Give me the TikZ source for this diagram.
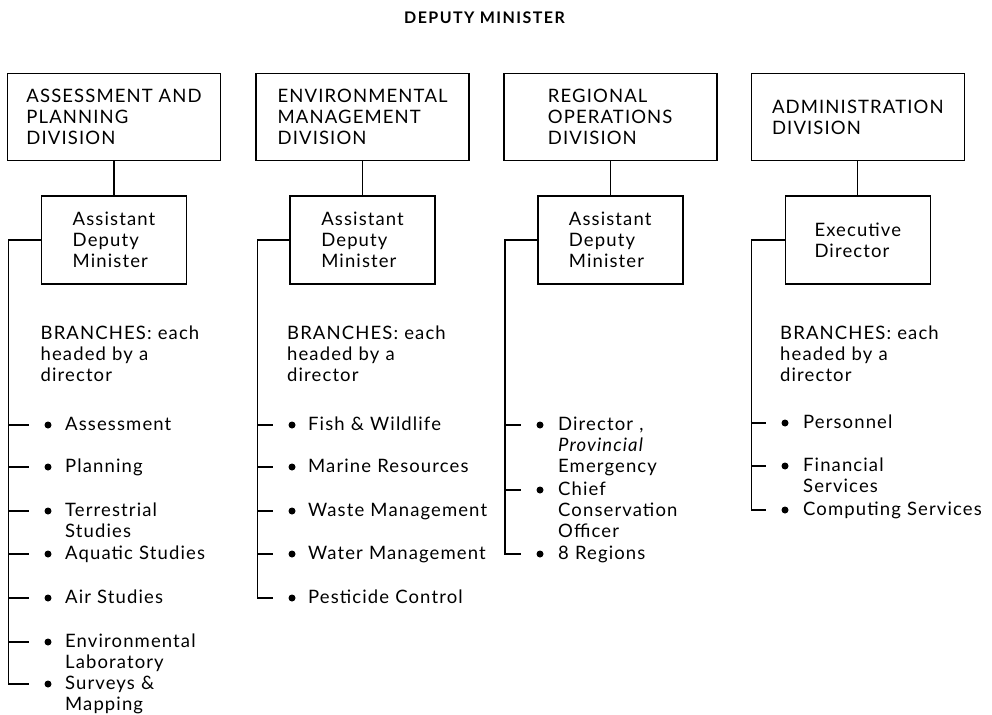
\documentclass[tikz,border=0pt]{standalone}
\usepackage{fontspec}
\setmainfont{Lato}[LetterSpace=6]
\usetikzlibrary{positioning}
\newcommand{\chartfont}{\fontsize{18.5}{21}\selectfont}
\begin{document}
\begin{tikzpicture}[x=1pt, y=1pt, node distance=34pt,
  div/.style = {draw, line width=1.6pt, minimum width=213pt, minimum height=87pt, align=left, font=\chartfont},
  head/.style = {draw, line width=1.6pt, minimum width=145pt, minimum height=88pt, align=left, font=\chartfont},
  item/.style = {anchor=base west, text width=200pt, align=left, inner sep=0pt, font=\chartfont},
  dot/.style = {circle, fill, inner sep=0pt, minimum size=7pt},
  link/.style = {line width=1.3pt}]
\useasboundingbox (0,0) rectangle (992,-714);

\node[font=\fontsize{16}{18}\selectfont\bfseries\addfontfeature{LetterSpace=9}] (dm) at (484.5,-18) {DEPUTY MINISTER};

% divisions
\node[div] (apd) at (114,-117) {ASSESSMENT AND\\PLANNING\\DIVISION};
\node[div] (emd) [right=34pt of apd] {ENVIRONMENTAL\\MANAGEMENT\\DIVISION};
\node[div] (rod) [right=33pt of emd] {REGIONAL\\OPERATIONS\\DIVISION};
\node[div] (add) [right=33pt of rod] {ADMINISTRATION\\DIVISION};

% heads
\node[head] (h1) [below=of apd] {Assistant\\Deputy\\Minister};
\node[head] (h2) [below=of emd] {Assistant\\Deputy\\Minister};
\node[head] (h3) [below=of rod] {Assistant\\Deputy\\Minister};
\node[head] (h4) [below=of add] {Executive\\Director};

\foreach \d/\h in {apd/h1, emd/h2, rod/h3, add/h4}
  \draw[link] (\d) -- (\h);

\coordinate[left=32pt of h1.west] (sp1);
\coordinate[left=32pt of h2.west] (sp2);
\coordinate[left=32pt of h3.west] (sp3);
\coordinate[left=33pt of h4.west] (sp4);

\node[item] (br1) at (40.5,-339) {BRANCHES: each\\headed by a\\director};
\node[item] (br2) at (287,-339) {BRANCHES: each\\headed by a\\director};
\node[item] (br4) at (780,-339) {BRANCHES: each\\headed by a\\director};

% assessment and planning
\node[dot] (a1) at (48,-425) {};
\node[dot] (a2) at (48,-467) {};
\node[dot] (a3) at (48,-511) {};
\node[dot] (a4) at (48,-554) {};
\node[dot] (a5) at (48,-598) {};
\node[dot] (a6) at (48,-642) {};
\node[dot] (a7) at (48,-684) {};
\node[item] at ([xshift=17pt,yshift=-5.5pt]a1.center) {Assessment};
\node[item] at ([xshift=17pt,yshift=-5.5pt]a2.center) {Planning};
\node[item] at ([xshift=17pt,yshift=-5.5pt]a3.center) {Terrestrial\\Studies};
\node[item] at ([xshift=17pt,yshift=-5.5pt]a4.center) {Aquatic Studies};
\node[item] at ([xshift=17pt,yshift=-5.5pt]a5.center) {Air Studies};
\node[item] at ([xshift=17pt,yshift=-5.5pt]a6.center) {Environmental\\Laboratory};
\node[item] at ([xshift=17pt,yshift=-5.5pt]a7.center) {Surveys \&\\Mapping};

% environmental management
\node[dot] (e1) at (292,-425) {};
\node[dot] (e2) at (292,-467) {};
\node[dot] (e3) at (292,-511) {};
\node[dot] (e4) at (292,-554) {};
\node[dot] (e5) at (292,-598) {};
\node[item] at ([xshift=16pt,yshift=-5.5pt]e1.center) {Fish \& Wildlife};
\node[item] at ([xshift=16pt,yshift=-5.5pt]e2.center) {Marine Resources};
\node[item] at ([xshift=16pt,yshift=-5.5pt]e3.center) {Waste Management};
\node[item] at ([xshift=16pt,yshift=-5.5pt]e4.center) {Water Management};
\node[item] at ([xshift=16pt,yshift=-5.5pt]e5.center) {Pesticide Control};

% regional operations
\node[dot] (r1) at (540,-425) {};
\node[dot] (r2) at (540,-490) {};
\node[dot] (r3) at (540,-554) {};
\node[item] at ([xshift=18pt,yshift=-5.5pt]r1.center) {Director ,\\\textit{Provincial}\\Emergency};
\node[item] at ([xshift=18pt,yshift=-5.5pt]r2.center) {Chief\\Conservation\\Officer};
\node[item] at ([xshift=18pt,yshift=-5.5pt]r3.center) {8 Regions};

% administration
\node[dot] (m1) at (785,-423) {};
\node[dot] (m2) at (785,-466) {};
\node[dot] (m3) at (785,-510) {};
\node[item] at ([xshift=18pt,yshift=-5.5pt]m1.center) {Personnel};
\node[item] at ([xshift=18pt,yshift=-5.5pt]m2.center) {Financial\\Services};
\node[item] at ([xshift=18pt,yshift=-5.5pt]m3.center) {Computing Services};

% spines and ticks
\draw[link, shorten >=15pt] (h1.west) -- (sp1) |- (a7);
\draw[link, shorten >=15pt] (h2.west) -- (sp2) |- (e5);
\draw[link, shorten >=15pt] (h3.west) -- (sp3) |- (r3);
\draw[link, shorten >=15pt] (h4.west) -- (sp4) |- (m3);
\foreach \n in {a1,a2,a3,a4,a5,a6} \draw[link, shorten >=15pt] (sp1 |- \n) -- (\n);
\foreach \n in {e1,e2,e3,e4} \draw[link, shorten >=15pt] (sp2 |- \n) -- (\n);
\foreach \n in {r1,r2} \draw[link, shorten >=15pt] (sp3 |- \n) -- (\n);
\foreach \n in {m1,m2} \draw[link, shorten >=15pt] (sp4 |- \n) -- (\n);

\end{tikzpicture}
\end{document}
